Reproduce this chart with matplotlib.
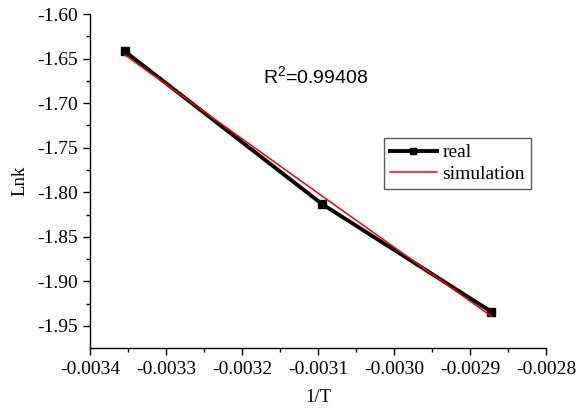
import matplotlib
matplotlib.use('Agg')
import matplotlib.pyplot as plt
from matplotlib.ticker import MultipleLocator, FormatStrFormatter

# 1/T values (-1/298.15, -1/323.15, -1/348.15) and ln k
inv_t = [-0.003354, -0.003095, -0.002872]
lnk_real = [-1.642, -1.813, -1.934]
lnk_sim = [-1.646, -1.804, -1.939]
r2_label = r'R$^2$=0.99408'

plt.rcParams['font.family'] = ['Liberation Serif', 'DejaVu Serif']
plt.rcParams['axes.unicode_minus'] = False
plt.rcParams['mathtext.fontset'] = 'custom'
plt.rcParams['mathtext.rm'] = 'Liberation Sans'
plt.rcParams['mathtext.it'] = 'Liberation Sans'

W, H = 576, 415
fig = plt.figure(figsize=(W / 100, H / 100), dpi=100)
ax = fig.add_axes([90 / W, 1 - 348 / H, 456 / W, 334 / H])

ax.plot(inv_t, lnk_real, color='black', lw=2.8, marker='s', ms=5.5,
        label='real', zorder=2)
ax.plot(inv_t, lnk_sim, color='red', lw=1.1, label='simulation', zorder=3)

ax.set_xlim(-0.0034, -0.0028)
ax.set_ylim(-1.9747, -1.60)
ax.xaxis.set_major_locator(MultipleLocator(0.0001))
ax.xaxis.set_minor_locator(MultipleLocator(0.00005))
ax.yaxis.set_major_locator(MultipleLocator(0.05))
ax.yaxis.set_minor_locator(MultipleLocator(0.025))
ax.xaxis.set_major_formatter(FormatStrFormatter('%.4f'))
ax.yaxis.set_major_formatter(FormatStrFormatter('%.2f'))

for side in ('top', 'right'):
    ax.spines[side].set_visible(False)
for side in ('left', 'bottom'):
    ax.spines[side].set_linewidth(1.0)
ax.tick_params(which='both', direction='out', labelsize=14, width=1.0)
ax.tick_params(which='major', length=5, pad=4)
ax.tick_params(which='minor', length=3)

ax.set_xlabel('1/T', fontsize=13.5, labelpad=8)
ax.set_ylabel('Lnk', fontsize=13.5, labelpad=6)

fig.text(316 / W, 1 - 76 / H, r2_label, fontsize=14, ha='center', va='center',
         family=['Liberation Sans', 'DejaVu Sans'])

leg = ax.legend(loc='upper left', bbox_to_anchor=(384 / W, 1 - 138 / H),
                bbox_transform=fig.transFigure, borderaxespad=0, fancybox=False,
                fontsize=14, handlelength=2.4, handletextpad=0.3,
                borderpad=0.3, labelspacing=0.2, markerscale=0.9)
leg.get_frame().set_edgecolor('#333333')
leg.get_frame().set_linewidth(1.0)

fig.savefig('out.png', dpi=100, facecolor='white')
